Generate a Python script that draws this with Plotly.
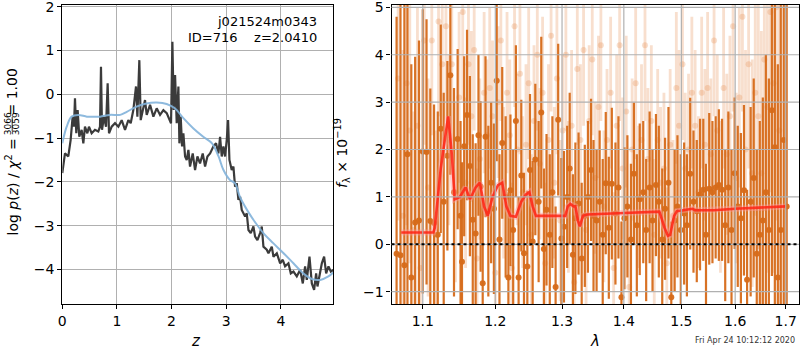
import plotly.graph_objects as go

# ---- redshift fit: log p(z) ----
z_grid = [0.000, 0.049, 0.110, 0.153, 0.189, 0.214, 0.232, 0.256, 0.281, 0.311, 0.354, 0.385, 0.415, 0.458,
          0.488, 0.537, 0.598, 0.659, 0.690, 0.708, 0.727, 0.763, 0.800, 0.830, 0.855, 0.904, 0.965, 1.026,
          1.087, 1.148, 1.209, 1.252, 1.300, 1.349, 1.374, 1.410, 1.435, 1.471, 1.514, 1.545, 1.606, 1.667,
          1.728, 1.789, 1.850, 1.911, 1.972, 1.990, 2.015, 2.039, 2.064, 2.094, 2.125, 2.143, 2.167, 2.192,
          2.216, 2.247, 2.277, 2.308, 2.338, 2.387, 2.430, 2.473, 2.521, 2.570, 2.613, 2.656, 2.705, 2.766,
          2.814, 2.857, 2.888, 2.918, 2.949, 2.979, 3.010, 3.034, 3.059, 3.101, 3.132, 3.162, 3.193, 3.223,
          3.254, 3.284, 3.346, 3.376, 3.407, 3.449, 3.498, 3.529, 3.571, 3.620, 3.651, 3.681, 3.742, 3.773,
          3.834, 3.865, 3.926, 3.987, 4.035, 4.078, 4.139, 4.182, 4.231, 4.292, 4.353, 4.402, 4.444, 4.475,
          4.524, 4.567, 4.609, 4.646, 4.670, 4.707, 4.750, 4.792, 4.829, 4.872, 4.915, 4.963]
log_pz = [-1.80, -1.35, -1.42, -1.04, -0.51, -0.74, -0.09, -0.89, -0.36, -0.97, -0.81, -1.12, -0.74, -0.89,
          -0.74, -0.89, -0.81, -0.85, -0.74, 0.63, -0.81, -0.51, -0.74, 0.25, -0.89, -0.74, -0.66, -0.74,
          -0.59, -0.81, -0.59, -0.66, -0.36, 0.18, -0.51, 0.78, -0.59, -0.36, -0.13, -0.47, -0.24, -0.51,
          -0.32, -0.47, -0.36, -0.43, -0.59, -0.66, 1.20, -0.36, 0.44, -0.66, 0.18, -1.12, -0.51, -1.19,
          -0.89, -1.42, -1.50, -1.27, -1.65, -1.35, -1.73, -1.42, -1.58, -1.35, -1.65, -1.42, -1.35, -1.19,
          -1.12, -1.35, -0.97, -1.42, -1.19, -1.42, -1.04, -0.59, -1.50, -1.73, -1.65, -2.11, -2.03, -2.41,
          -2.34, -2.64, -2.79, -2.72, -3.10, -3.17, -3.02, -3.25, -3.33, -3.17, -3.02, -3.48, -3.55, -3.63,
          -3.48, -3.71, -3.63, -3.86, -3.78, -3.93, -3.86, -4.09, -4.05, -4.16, -4.01, -4.32, -3.93, -4.24,
          -3.71, -4.32, -4.47, -4.09, -4.39, -4.16, -3.86, -3.71, -4.09, -3.93, -4.05, -4.01]

# smoothed template-fit curve
z_smooth = [0.00, 0.08, 0.17, 0.29, 0.45, 0.57, 0.69, 0.87, 1.06, 1.18, 1.36, 1.54, 1.73, 1.91, 2.06, 2.22,
            2.40, 2.58, 2.74, 2.86, 2.95, 3.07, 3.16, 3.25, 3.38, 3.50, 3.68, 3.86, 4.05, 4.23, 4.41, 4.57,
            4.72, 4.87, 4.96]
log_smooth = [-1.12, -0.74, -0.51, -0.47, -0.51, -0.51, -0.51, -0.47, -0.47, -0.40, -0.28, -0.21, -0.19,
              -0.22, -0.32, -0.55, -0.78, -0.97, -1.12, -1.42, -1.73, -1.96, -2.03, -2.34, -2.64, -2.87,
              -3.17, -3.40, -3.63, -3.86, -4.09, -4.22, -4.24, -4.16, -4.07]

z_ticks = [0, 1, 2, 3, 4]
pz_ticks = [-4, -3, -2, -1, 0, 1, 2]

# ---- 1D spectrum, first grism orientation ----
wave_a = [1.066, 1.071, 1.076, 1.080, 1.085, 1.090, 1.095, 1.100, 1.105, 1.110, 1.115, 1.120, 1.124, 1.128,
          1.133, 1.137, 1.142, 1.147, 1.151, 1.153, 1.156, 1.160, 1.164, 1.168, 1.172, 1.176, 1.179, 1.182,
          1.186, 1.190, 1.194, 1.198, 1.202, 1.206, 1.210, 1.215, 1.219, 1.222, 1.226, 1.230, 1.234, 1.238,
          1.242, 1.247, 1.251, 1.255, 1.259, 1.264, 1.268, 1.272, 1.276, 1.281, 1.285, 1.290, 1.294, 1.299,
          1.303, 1.308, 1.312, 1.317, 1.321, 1.326, 1.331, 1.336, 1.341, 1.346, 1.350, 1.355, 1.360, 1.365,
          1.370, 1.375, 1.380, 1.386, 1.391, 1.396, 1.401, 1.406, 1.412, 1.417, 1.422, 1.427, 1.433, 1.438,
          1.444, 1.449, 1.455, 1.460, 1.466, 1.471, 1.477, 1.482, 1.488, 1.493, 1.499, 1.505, 1.510, 1.516,
          1.522, 1.528, 1.534, 1.540, 1.545, 1.551, 1.557, 1.563, 1.569, 1.575, 1.581, 1.587, 1.593, 1.599,
          1.605, 1.611, 1.617, 1.623, 1.630, 1.636, 1.642, 1.648, 1.654, 1.660, 1.666, 1.672, 1.678, 1.684,
          1.690, 1.696, 1.702]
flux_a = [-0.20, -0.23, -0.44, 1.90, -0.70, 0.46, 0.50, 1.96, 1.95, 0.49, 0.45, 0.20, 2.44, 0.90,
          1.87, 3.57, 1.10, 2.22, 0.60, -0.37, 2.07, 2.73, 1.65, 0.52, 0.23, 2.30, 1.22, -0.82,
          2.27, 0.70, 1.30, 0.75, 3.45, 0.10, 2.14, 1.00, -0.70, 1.14, 0.30, 2.60, -0.70, 1.45,
          -0.19, -0.47, 1.57, 0.06, 1.79, 0.90, 2.78, -0.10, 0.73, 0.20, 1.10, -0.90, 2.63, 0.12,
          0.37, 1.00, 1.60, -0.22, 0.55, 0.86, -0.30, 0.60, 1.00, 1.57, 0.60, 0.50, 0.90, 0.20,
          1.29, 0.35, 1.28, 0.65, 1.20, -1.12, 0.55, 0.80, 0.10, 1.49, 0.40, 0.95, 1.10, 0.30,
          1.20, 0.50, 1.25, 0.90, 0.10, 0.75, 1.30, -1.12, 0.50, 0.80, 0.30, 0.65, 0.40, 1.49,
          0.90, 0.70, 1.05, 1.15, 0.20, 1.17, 1.10, 1.20, 1.25, 1.15, 0.40, 1.20, 0.30, 1.50,
          0.80, 0.55, 1.14, -0.75, 0.90, 1.40, -0.20, 0.20, 0.50, 1.10, 0.30, 2.83, 2.05, -0.70,
          0.30, 2.20, 0.80]
err_a = [5.0, 6.0, 5.5, 4.0, 4.5, 3.5, 3.8, 3.0, 2.8, 2.8, 2.5, 2.6, 2.2, 2.3,
         2.0, 2.1, 2.2, 1.9, 2.0, 2.1, 1.9, 1.8, 1.9, 1.8, 1.9, 1.7, 1.8, 1.8,
         1.7, 1.8, 1.7, 1.8, 1.7, 1.8, 1.6, 1.7, 1.8, 1.6, 1.7, 1.6, 1.7, 1.6,
         1.7, 1.6, 1.6, 1.7, 1.6, 1.7, 1.6, 1.7, 1.6, 1.7, 1.6, 1.7, 1.6, 1.7,
         1.6, 1.5, 1.6, 1.7, 1.6, 1.5, 1.6, 1.5, 1.6, 1.5, 1.6, 1.5, 1.5, 1.6,
         1.5, 1.5, 1.6, 1.5, 1.5, 1.6, 1.5, 1.5, 1.6, 1.5, 1.5, 1.6, 1.5, 1.5,
         1.6, 1.5, 1.5, 1.6, 1.5, 1.5, 1.6, 1.6, 1.5, 1.5, 1.6, 1.5, 1.5, 1.6,
         1.5, 1.5, 1.6, 1.5, 1.5, 1.6, 1.5, 1.5, 1.6, 1.5, 1.6, 1.6, 1.7, 1.6,
         1.7, 1.8, 1.8, 1.9, 2.0, 2.1, 2.2, 2.4, 2.6, 2.9, 3.2, 3.5, 4.0, 4.5,
         5.5, 6.5, 7.5]

# ---- 1D spectrum, second grism orientation ----
wave_b = [1.068, 1.074, 1.079, 1.083, 1.088, 1.093, 1.097, 1.102, 1.107, 1.112, 1.117, 1.121, 1.126, 1.131,
          1.135, 1.139, 1.144, 1.149, 1.154, 1.158, 1.162, 1.166, 1.170, 1.174, 1.178, 1.184, 1.188, 1.192,
          1.196, 1.200, 1.204, 1.208, 1.212, 1.217, 1.221, 1.224, 1.228, 1.232, 1.236, 1.240, 1.245, 1.249,
          1.253, 1.257, 1.262, 1.266, 1.270, 1.274, 1.279, 1.283, 1.288, 1.292, 1.297, 1.301, 1.306, 1.310,
          1.315, 1.319, 1.324, 1.329, 1.334, 1.338, 1.343, 1.348, 1.353, 1.358, 1.362, 1.367, 1.372, 1.378,
          1.383, 1.388, 1.393, 1.398, 1.404, 1.409, 1.414, 1.420, 1.425, 1.430, 1.436, 1.441, 1.447, 1.452,
          1.458, 1.463, 1.469, 1.474, 1.480, 1.485, 1.491, 1.496, 1.502, 1.507, 1.513, 1.519, 1.525, 1.531,
          1.537, 1.543, 1.548, 1.554, 1.560, 1.566, 1.572, 1.578, 1.584, 1.590, 1.596, 1.602, 1.608, 1.614,
          1.620, 1.626, 1.633, 1.639, 1.645, 1.651, 1.657, 1.663, 1.669, 1.675, 1.681, 1.687]
flux_b = [3.5, 0.6, 3.4, 2.4, 0.3, 2.5, -0.5, 4.3, 1.2, 4.3, 0.2, 4.7, 3.8, 4.6,
          2.2, 3.8, 1.1, 3.1, 4.9, 1.3, 3.8, 2.7, 4.1, -0.3, 1.8, 3.2, 2.3, 3.3,
          2.7, -0.6, 3.0, 4.3, 1.3, 3.2, 2.3, -0.5, 4.6, 2.0, 3.6, 1.1, 2.1, 3.4,
          0.2, 2.6, 4.0, 1.7, 3.2, -0.4, 2.2, 4.4, 1.3, 3.5, 0.5, 2.4, 4.0, 1.0,
          2.5, -0.8, 3.7, 2.2, 4.1, 0.3, 2.6, 3.9, 1.4, 2.9, 4.2, 0.8, 2.2, 3.2,
          -0.5, 2.5, 4.2, 1.6, 2.8, -0.9, 2.0, 3.4, 1.0, 2.2, 4.2, 1.8, 2.6, 0.2,
          2.2, 1.3, 1.6, -0.4, 2.1, 0.6, 3.3, 2.5, 3.8, 1.6, 2.0, 3.2, 2.5, 1.1,
          3.2, 2.1, 3.3, 1.9, 4.3, 2.4, 1.0, 3.3, 1.9, 2.7, 4.6, 1.4, 3.1, 4.8,
          2.0, 3.8, 1.5, 3.2, 2.7, 1.5, 3.9, 2.9, 4.9, 3.4, 5.0, 2.4]
err_b = [3.0, 3.5, 3.0, 2.8, 2.5, 2.5, 2.5, 2.2, 2.3, 2.0, 2.2, 2.0, 1.9, 1.9,
         1.8, 1.9, 1.9, 1.8, 1.9, 1.8, 1.7, 1.8, 1.7, 1.9, 1.7, 1.7, 1.6, 1.7,
         1.6, 1.8, 1.6, 1.7, 1.6, 1.7, 1.6, 1.8, 1.7, 1.6, 1.7, 1.6, 1.7, 1.6,
         1.7, 1.6, 1.6, 1.6, 1.6, 1.7, 1.6, 1.6, 1.6, 1.6, 1.7, 1.6, 1.6, 1.6,
         1.6, 1.7, 1.6, 1.6, 1.6, 1.7, 1.6, 1.6, 1.6, 1.5, 1.6, 1.6, 1.5, 1.6,
         1.6, 1.5, 1.6, 1.5, 1.6, 1.6, 1.5, 1.6, 1.5, 1.6, 1.6, 1.5, 1.6, 1.6,
         1.5, 1.6, 1.6, 1.6, 1.6, 1.6, 1.6, 1.6, 1.6, 1.6, 1.6, 1.6, 1.6, 1.6,
         1.6, 1.6, 1.6, 1.6, 1.6, 1.6, 1.6, 1.7, 1.7, 1.7, 1.8, 1.8, 1.9, 2.0,
         2.1, 2.2, 2.4, 2.6, 2.8, 3.0, 3.2, 3.5, 3.8, 4.0, 4.5, 5.0]

# ---- best-fit model ----
wave_model = [1.072, 1.114, 1.116, 1.124, 1.134, 1.139, 1.143, 1.150, 1.158, 1.164, 1.172, 1.178, 1.184,
              1.189, 1.196, 1.204, 1.210, 1.216, 1.222, 1.230, 1.238, 1.245, 1.250, 1.255, 1.260, 1.305,
              1.309, 1.313, 1.318, 1.321, 1.325, 1.328, 1.333, 1.340, 1.400, 1.461, 1.470, 1.476, 1.480,
              1.487, 1.492, 1.505, 1.520, 1.525, 1.560, 1.600, 1.650, 1.700]
flux_model = [0.25, 0.25, 0.35, 1.60, 2.70, 1.90, 0.95, 1.00, 1.20, 0.95, 1.20, 1.30, 0.80,
              0.60, 1.00, 1.25, 1.30, 0.80, 0.60, 0.58, 0.90, 1.05, 1.10, 0.80, 0.60, 0.60,
              0.80, 0.85, 0.80, 0.80, 0.50, 0.38, 0.60, 0.63, 0.66, 0.69, 0.35, 0.18, 0.20,
              0.60, 0.70, 0.73, 0.75, 0.72, 0.72, 0.75, 0.77, 0.80]

wave_ticks = [1.1, 1.2, 1.3, 1.4, 1.5, 1.6, 1.7]
flux_ticks = [-1, 0, 1, 2, 3, 4, 5]

FONT = "DejaVu Sans"
ORANGE = "rgba(214,106,25,0.95)"
ORANGE_LIGHT = "rgba(226,126,60,0.25)"
GRID = "#b0b0b0"
W, H = 800, 350


def px(x):
    return x / W


def py(y):
    return 1 - y / H


fig = go.Figure()

# left panel
fig.add_trace(go.Scatter(x=z_grid, y=log_pz, mode="lines", xaxis="x", yaxis="y",
                         line=dict(color="#3b3b3b", width=2.2), showlegend=False))
fig.add_trace(go.Scatter(x=z_smooth, y=log_smooth, mode="lines", xaxis="x", yaxis="y",
                         line=dict(color="rgba(130,178,218,0.9)", width=2.0, shape="spline"),
                         showlegend=False))

# right panel: light orientation first, then dark
fig.add_trace(go.Scatter(x=wave_b, y=flux_b, mode="markers", xaxis="x2", yaxis="y2",
                         marker=dict(color=ORANGE_LIGHT, size=6),
                         error_y=dict(type="data", array=err_b, color=ORANGE_LIGHT, thickness=2.8, width=0),
                         showlegend=False))
fig.add_trace(go.Scatter(x=wave_a, y=flux_a, mode="markers", xaxis="x2", yaxis="y2",
                         marker=dict(color=ORANGE, size=6),
                         error_y=dict(type="data", array=err_a, color=ORANGE, thickness=2.2, width=0),
                         showlegend=False))
fig.add_trace(go.Scatter(x=wave_model, y=flux_model, mode="lines", xaxis="x2", yaxis="y2",
                         line=dict(color="rgba(255,150,150,0.45)", width=6), showlegend=False))
fig.add_trace(go.Scatter(x=wave_model, y=flux_model, mode="lines", xaxis="x2", yaxis="y2",
                         line=dict(color="rgba(255,35,20,0.85)", width=2.6), showlegend=False))

axis_common = dict(showline=True, mirror=True, linecolor="black", linewidth=1.3,
                   ticks="outside", ticklen=4, tickwidth=1, tickcolor="black",
                   ticklabeloverflow="allow", automargin=False,
                   tickfont=dict(family=FONT, size=14, color="black"), zeroline=False)

shapes = []
# grid of right panel drawn above the spectrum
for wv in wave_ticks:
    shapes.append(dict(type="line", xref="x2", yref="y2 domain", x0=wv, x1=wv, y0=0, y1=1,
                       line=dict(color=GRID, width=1.2), layer="above"))
for fv in flux_ticks:
    shapes.append(dict(type="line", xref="x2 domain", yref="y2", x0=0, x1=1, y0=fv, y1=fv,
                       line=dict(color=GRID, width=1.2), layer="above"))
# zero level
shapes.append(dict(type="line", xref="x2 domain", yref="y2", x0=0, x1=1, y0=0, y1=0,
                   line=dict(color="black", width=2, dash="dot"), layer="above"))
# fraction bar in the left axis label
shapes.append(dict(type="line", xref="paper", yref="paper", x0=px(12.2), x1=px(12.2),
                   y0=py(117), y1=py(131), line=dict(color="black", width=0.8)))

ann = []
lab = dict(family=FONT, size=14, color="black")
ann.append(dict(text="log <i>p</i>(<i>z</i>) / <i>χ</i><sup>2</sup> =", x=px(12), y=py(187.5),
                xref="paper", yref="paper", xanchor="center", yanchor="middle",
                textangle=-90, showarrow=False, font=lab))
ann.append(dict(text="3066", x=px(8.3), y=py(124), xref="paper", yref="paper",
                xanchor="center", yanchor="middle", textangle=-90, showarrow=False,
                font=dict(family=FONT, size=9, color="black")))
ann.append(dict(text="3059", x=px(16.3), y=py(124), xref="paper", yref="paper",
                xanchor="center", yanchor="middle", textangle=-90, showarrow=False,
                font=dict(family=FONT, size=9, color="black")))
ann.append(dict(text="= 1.00", x=px(12), y=py(92.5), xref="paper", yref="paper",
                xanchor="center", yanchor="middle", textangle=-90, showarrow=False, font=lab))
ann.append(dict(text="<i>f</i><sub>λ</sub> × 10<sup>−19</sup>", x=px(342), y=py(153),
                xref="paper", yref="paper", xanchor="center", yanchor="middle",
                textangle=-90, showarrow=False, font=lab))
ann.append(dict(text="<i>z</i>", x=px(196), y=py(341), xref="paper", yref="paper",
                xanchor="center", yanchor="middle", showarrow=False,
                font=dict(family=FONT, size=15, color="black")))
ann.append(dict(text="<i>λ</i>", x=px(595), y=py(341), xref="paper", yref="paper",
                xanchor="center", yanchor="middle", showarrow=False,
                font=dict(family=FONT, size=15, color="black")))
ann.append(dict(text="j021524m0343", x=px(319), y=py(22), xref="paper", yref="paper",
                xanchor="right", yanchor="middle", showarrow=False,
                font=dict(family=FONT, size=13, color="black")))
ann.append(dict(text="ID=716\u00a0\u00a0\u00a0\u00a0z=2.0410", x=px(319), y=py(37), xref="paper",
                yref="paper", xanchor="right", yanchor="middle", showarrow=False,
                font=dict(family=FONT, size=13, color="black")))
ann.append(dict(text="Fri Apr 24 10:12:12 2020", x=px(745), y=py(340), xref="paper", yref="paper",
                xanchor="center", yanchor="middle", showarrow=False,
                font=dict(family=FONT, size=8, color="#333333")))

fig.update_layout(
    width=W, height=H, margin=dict(l=0, r=0, t=0, b=0, autoexpand=False),
    paper_bgcolor="white", plot_bgcolor="white",
    xaxis=dict(domain=[px(62.3), px(333.3)], range=[0, 4.96], tickvals=z_ticks,
               showgrid=True, gridcolor=GRID, gridwidth=1.2, anchor="y", **axis_common),
    yaxis=dict(domain=[py(304), py(5)], range=[-4.79, 2.04], tickvals=pz_ticks,
               ticktext=[str(v).replace("-", "−") for v in pz_ticks],
               showgrid=True, gridcolor=GRID, gridwidth=1.2, anchor="x", **axis_common),
    xaxis2=dict(domain=[px(391.5), px(799)], type="log", range=[0.02511, 0.23737],
                tickvals=wave_ticks, ticktext=[f"{v:.1f}" for v in wave_ticks],
                showgrid=False, anchor="y2", **axis_common),
    yaxis2=dict(domain=[py(304), py(5)], range=[-1.26, 5.05], tickvals=flux_ticks,
                ticktext=[str(v).replace("-", "−") for v in flux_ticks],
                showgrid=False, anchor="x2", **axis_common),
    shapes=shapes, annotations=ann,
)

fig.write_html("out.html")
